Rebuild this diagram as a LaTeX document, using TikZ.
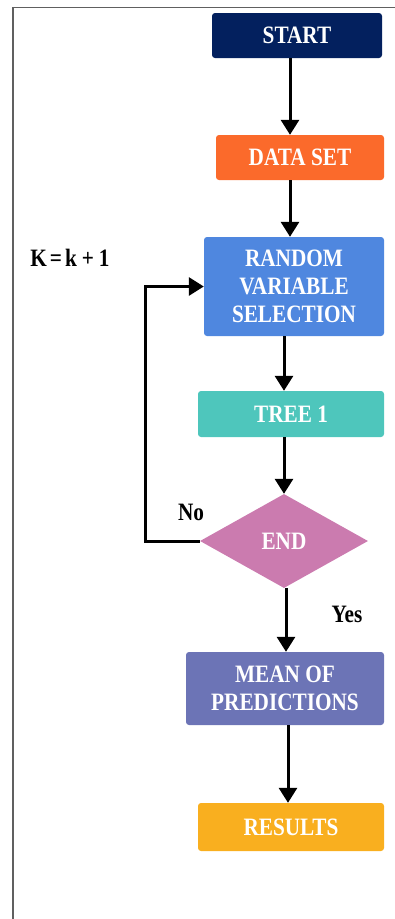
\documentclass[tikz,border=0pt]{standalone}
\usepackage{fontspec}
\setmainfont{Liberation Serif}[FakeStretch=0.85]
\usetikzlibrary{shapes.geometric,arrows.meta}
\definecolor{cstart}{HTML}{03205E}
\definecolor{cdata}{HTML}{FB6A2B}
\definecolor{crvs}{HTML}{4F87DF}
\definecolor{ctree}{HTML}{4EC6BC}
\definecolor{cend}{HTML}{CB7BAF}
\definecolor{cmean}{HTML}{6C74B6}
\definecolor{cres}{HTML}{F9AF1F}
\definecolor{cframe}{HTML}{606060}
\tikzset{
  box/.style={rectangle, rounded corners=3pt, inner sep=0pt, text=white, align=center,
    font=\fontsize{25}{28}\selectfont\bfseries},
  dec/.style={diamond, inner sep=0pt, text=white, font=\fontsize{25}{28}\selectfont\bfseries},
  lab/.style={inner sep=0pt, text=black, font=\fontsize{25}{28}\selectfont\bfseries},
  arr/.style={line width=3pt, -{Triangle[width=18pt,length=15pt]}},
  frame/.style={draw=cframe, line width=1.5pt}
}
\begin{document}
\begin{tikzpicture}[x=1pt,y=-1pt]
\useasboundingbox (0,0) rectangle (395,919);
\draw[frame] (13,919) -- (13,7.5) -- (395,7.5);
\node[box, fill=cstart, minimum width=170pt, minimum height=45pt] (start) at (297,35.5) {START};
\node[box, fill=cdata, minimum width=168pt, minimum height=45pt] (data) at (300,157.5) {DATA SET};
\node[box, fill=crvs, minimum width=180pt, minimum height=99pt] (rvs) at (294,286.5) {RANDOM\\VARIABLE\\SELECTION};
\node[box, fill=ctree, minimum width=186pt, minimum height=46pt] (tree) at (291,414) {TREE 1};
\node[dec, fill=cend, minimum width=168pt, minimum height=94pt] (end) at (284,541) {END};
\node[box, fill=cmean, minimum width=198pt, minimum height=73pt] (mean) at (285,688.5) {MEAN OF\\PREDICTIONS};
\node[box, fill=cres, minimum width=186pt, minimum height=48pt] (res) at (291,827) {RESULTS};
\node[lab] (k) at (70,258) {K\kern3pt=\kern3pt k\kern5pt+\kern5pt 1};
\node[lab] (no) at (191,512) {No};
\node[lab] (yes) at (347,614) {Yes};
\coordinate (x1) at (290,0);
\coordinate (x2) at (284,0);
\coordinate (x3) at (286,0);
\coordinate (x4) at (288,0);
\coordinate (lp) at (145,400);
\draw[arr] (start.south -| x1) -- (data.north -| x1);
\draw[arr] (data.south -| x1) -- (rvs.north -| x1);
\draw[arr] (rvs.south -| x2) -- (tree.north -| x2);
\draw[arr] (tree.south -| x2) -- (end.north);
\draw[arr] (end.south -| x3) -- (mean.north -| x3);
\draw[arr] (mean.south -| x4) -- (res.north -| x4);
\draw[arr] (end.west) -| (lp) |- (rvs.west);
\end{tikzpicture}
\end{document}
